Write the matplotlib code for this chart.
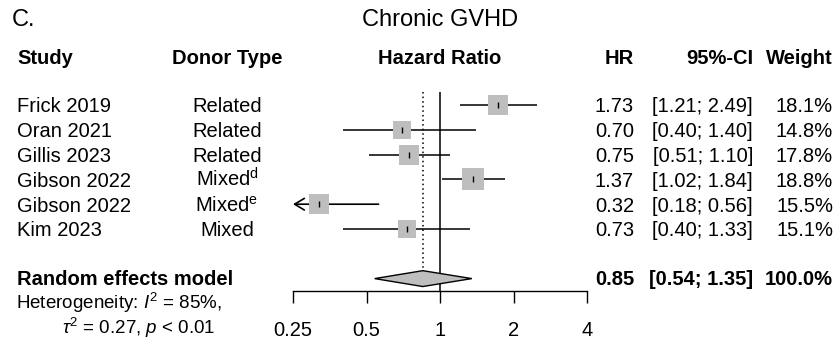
import numpy as np
import matplotlib
matplotlib.use("Agg")
import matplotlib.pyplot as plt
from matplotlib.transforms import blended_transform_factory

# ---------------- data ----------------
studies = ["Frick 2019", "Oran 2021", "Gillis 2023", "Gibson 2022", "Gibson 2022", "Kim 2023"]
donor = ["Related", "Related", "Related", r"Mixed$^{\mathrm{d}}$", r"Mixed$^{\mathrm{e}}$", "Mixed"]
hr = [1.73, 0.70, 0.75, 1.37, 0.32, 0.73]
ci_lo = [1.21, 0.40, 0.51, 1.02, 0.18, 0.40]
ci_hi = [2.49, 1.40, 1.10, 1.84, 0.56, 1.33]
weight = [18.1, 14.8, 17.8, 18.8, 15.5, 15.1]
pooled_hr, pooled_lo, pooled_hi, pooled_w = 0.85, 0.54, 1.35, 100.0
pooled_label = "Random effects model"
het_line1 = r"Heterogeneity: $I^2$ = 85%,"
het_line2 = r"$\tau^2$ = 0.27, $p$ < 0.01"
tick_vals = [0.25, 0.5, 1, 2, 4]
tick_labels = ["0.25", "0.5", "1", "2", "4"]
headers = ["Study", "Donor Type", "Hazard Ratio", "HR", "95%-CI", "Weight"]
title = "Chronic GVHD"
panel = "C."

# ---------------- style ----------------
plt.rcParams["font.family"] = ["Liberation Sans", "DejaVu Sans"]
plt.rcParams["mathtext.fontset"] = "custom"
plt.rcParams["mathtext.rm"] = "Liberation Sans"
plt.rcParams["mathtext.it"] = "Liberation Sans:italic"
plt.rcParams["mathtext.bf"] = "Liberation Sans:bold"

W, H = 838, 340
fig = plt.figure(figsize=(W / 100, H / 100), dpi=100)

FS = 14.5
GRAY = "#bebebe"

# row r centre pixel = 105 + 24.8 * r
def px_to_row(p):
    return (p - 105) / 24.8

top_px, bot_px = 92, 290.5
ax = fig.add_axes([293 / W, 1 - bot_px / H, (587 - 293) / W, (bot_px - top_px) / H])
ax.set_xscale("log", base=2)
ax.set_xlim(0.25, 4)
ax.set_ylim(px_to_row(bot_px), px_to_row(top_px))
for s in ["top", "left", "right"]:
    ax.spines[s].set_visible(False)
ax.spines["bottom"].set_linewidth(1.0)
ax.set_yticks([])
ax.set_xticks(tick_vals)
ax.set_xticklabels(tick_labels, fontsize=FS)
ax.xaxis.set_minor_locator(matplotlib.ticker.NullLocator())
ax.tick_params(axis="x", direction="out", length=8.6, width=1.0, pad=13)
ax.patch.set_visible(False)

rows = np.arange(len(studies))
xmin = ax.get_xlim()[0]

# reference line at 1 and pooled estimate line
ax.axvline(1, color="black", lw=1.1, zorder=1)
dh = 0.32
pooled_row = 7
ax.plot([pooled_hr, pooled_hr], [px_to_row(top_px), pooled_row - dh],
        ls=(0, (1, 2)), color="black", lw=1.1, zorder=1)

# studies
for r, h, lo, hi, w in zip(rows, hr, ci_lo, ci_hi, weight):
    if lo < xmin:
        ax.annotate("", xy=(xmin, r), xytext=(hi, r),
                    arrowprops=dict(arrowstyle="->,head_length=0.5,head_width=0.3",
                                    lw=1.2, color="black",
                                    mutation_scale=14, shrinkA=0, shrinkB=0),
                    zorder=2, annotation_clip=False)
    else:
        ax.plot([lo, hi], [r, r], color="black", lw=1.1, zorder=2,
                solid_capstyle="butt")
    side_px = 4.85 * np.sqrt(w)
    ax.scatter([h], [r], marker="s", s=(side_px * 0.72) ** 2, color=GRAY,
               linewidths=0, zorder=3)
    ax.plot([h], [r], marker="|", ms=5, mew=1.0, color="black", zorder=4)

# diamond
ax.fill([pooled_lo, pooled_hr, pooled_hi, pooled_hr],
        [pooled_row, pooled_row - dh, pooled_row, pooled_row + dh],
        facecolor=GRAY, edgecolor="black", lw=1.0, zorder=3, clip_on=False)

# ---------------- text ----------------
tr = blended_transform_factory(fig.transFigure, ax.transData)
BL = 0.3  # baseline offset (rows)

def fx(p):
    return p / W

x_study, x_donor, x_hrhead = fx(17), fx(227), fx(440)
x_hr, x_ci, x_w = fx(634), fx(753), fx(833)

# title & panel label
t_row = px_to_row(26)
ax.text(fx(12), t_row, panel, transform=tr, fontsize=17, ha="left", va="baseline")
ax.text(fx(440), t_row, title, transform=tr, fontsize=17, ha="center", va="baseline")

# headers
h_row = px_to_row(64)
hx = [x_study, x_donor, x_hrhead, x_hr, x_ci, x_w]
hha = ["left", "center", "center", "right", "right", "right"]
for txt, x, ha in zip(headers, hx, hha):
    ax.text(x, h_row, txt, transform=tr, fontsize=FS, fontweight="bold",
            ha=ha, va="baseline")

for r, s, d, h, lo, hi, w in zip(rows, studies, donor, hr, ci_lo, ci_hi, weight):
    y = r + BL
    ax.text(x_study, y, s, transform=tr, fontsize=FS, ha="left", va="baseline")
    ax.text(x_donor, y, d, transform=tr, fontsize=FS, ha="center", va="baseline")
    ax.text(x_hr, y, f"{h:.2f}", transform=tr, fontsize=FS, ha="right", va="baseline")
    ax.text(x_ci, y, f"[{lo:.2f}; {hi:.2f}]", transform=tr, fontsize=FS, ha="right", va="baseline")
    ax.text(x_w, y, f"{w:.1f}%", transform=tr, fontsize=FS, ha="right", va="baseline")

y = pooled_row + 0.26
ax.text(x_study, y, pooled_label, transform=tr, fontsize=FS, fontweight="bold", ha="left", va="baseline")
ax.text(x_hr, y, f"{pooled_hr:.2f}", transform=tr, fontsize=FS, fontweight="bold", ha="right", va="baseline")
ax.text(x_ci, y, f"[{pooled_lo:.2f}; {pooled_hi:.2f}]", transform=tr, fontsize=FS, fontweight="bold", ha="right", va="baseline")
ax.text(x_w, y, f"{pooled_w:.1f}%", transform=tr, fontsize=FS, fontweight="bold", ha="right", va="baseline")

ax.text(fx(16), px_to_row(309), het_line1, transform=tr, fontsize=13.5, ha="left", va="baseline")
ax.text(fx(62), px_to_row(334), het_line2, transform=tr, fontsize=13.5, ha="left", va="baseline")

fig.savefig("out.png", dpi=100, facecolor="white")
